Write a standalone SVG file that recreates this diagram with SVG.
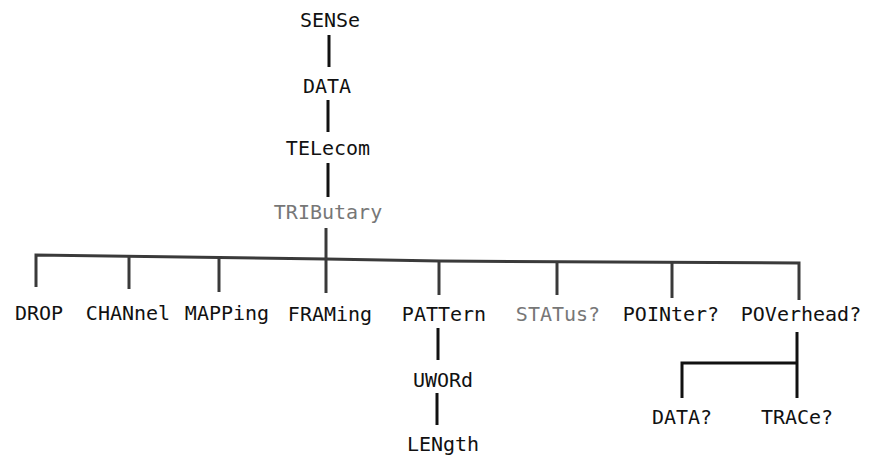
<svg xmlns="http://www.w3.org/2000/svg" width="873" height="459" viewBox="0 0 873 459">
<style>
text{font-family:"DejaVu Sans Mono","Liberation Mono",monospace;font-size:20px;fill:#111;text-anchor:middle}
text.g{fill:#777}
.c line,.c polyline{stroke:#3a3a3a;stroke-width:3;fill:none;stroke-linecap:butt}
.c .k{stroke:#111}
</style>
<rect width="873" height="459" fill="#fff"/>
<g id="connectors" class="c">
<line class="k" x1="329" y1="35" x2="329" y2="67"/>
<line class="k" x1="328" y1="100" x2="328" y2="132"/>
<line class="k" x1="328" y1="163" x2="328" y2="197"/>
<line x1="326" y1="228" x2="326" y2="293"/>
<polyline points="36,287 36,255 326,259 440,261 799,263 799,300"/>
<line x1="129" y1="256" x2="129" y2="289"/>
<line x1="219" y1="257" x2="219" y2="292"/>
<line x1="439" y1="261" x2="439" y2="295"/>
<line x1="557" y1="262" x2="557" y2="295"/>
<line x1="672" y1="262" x2="672" y2="298"/>
<line class="k" x1="438" y1="328" x2="438" y2="360"/>
<line class="k" x1="437" y1="393" x2="437" y2="425"/>
<line class="k" x1="797" y1="332" x2="797" y2="398"/>
<polyline class="k" points="682,398 682,363 797,363"/>
</g>
<g id="n-sense"><text x="330" y="27">SENSe</text></g>
<g id="n-data"><text x="327" y="93">DATA</text></g>
<g id="n-telecom"><text x="328" y="155">TELecom</text></g>
<g id="n-tributary"><text class="g" x="328" y="219">TRIButary</text></g>
<g id="n-drop"><text x="39" y="320">DROP</text></g>
<g id="n-channel"><text x="128" y="320">CHANnel</text></g>
<g id="n-mapping"><text x="227" y="320">MAPPing</text></g>
<g id="n-framing"><text x="330" y="321">FRAMing</text></g>
<g id="n-pattern"><text x="444" y="321">PATTern</text></g>
<g id="n-status"><text class="g" x="558" y="321">STATus?</text></g>
<g id="n-pointer"><text x="671" y="321">POINter?</text></g>
<g id="n-poverhead"><text x="801" y="321">POVerhead?</text></g>
<g id="n-uword"><text x="443" y="387">UWORd</text></g>
<g id="n-length"><text x="443" y="451">LENgth</text></g>
<g id="n-data2"><text x="682" y="424">DATA?</text></g>
<g id="n-trace"><text x="797" y="424">TRACe?</text></g>
</svg>
